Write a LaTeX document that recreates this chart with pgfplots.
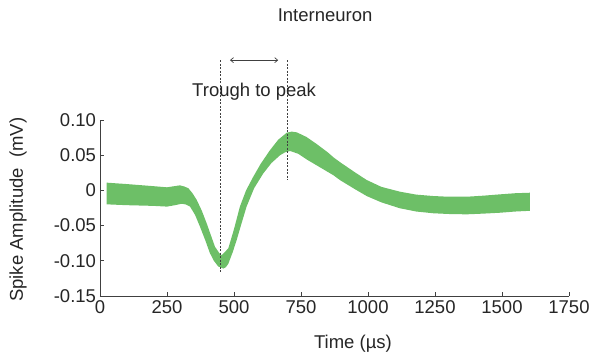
\documentclass[border=0pt]{standalone}
\usepackage{pgfplots}
\pgfplotsset{compat=1.18}
\usepackage{fontspec}
\setmainfont{Liberation Sans}
\usetikzlibrary{arrows.meta}
\definecolor{band}{HTML}{6DBF67}
\definecolor{txt}{HTML}{262626}
\definecolor{axc}{HTML}{404040}
\newcommand{\fs}{\fontsize{18.5bp}{22bp}\selectfont}
\begin{document}
\begin{tikzpicture}
\path[use as bounding box] (-100bp,-67bp) rectangle (489bp,296bp);
\begin{axis}[
  at={(0,0)}, anchor=south west,
  scale only axis, width=469bp, height=176bp,
  xmin=0, xmax=1750, ymin=-0.15, ymax=0.10,
  axis lines*=left,
  axis line style={axc, line width=0.8bp},
  tick style={axc, line width=0.8bp},
  tick align=inside, major tick length=4bp,
  xtick={0,250,500,750,1000,1250,1500,1750},
  ytick={-0.15,-0.10,-0.05,0,0.05,0.10},
  yticklabels={-0.15,-0.10,-0.05,0,0.05,0.10},
  xticklabel style={/pgf/number format/1000 sep={}},
  /pgf/number format/assume math mode=true,
  ticklabel style={font=\fs, text=txt},
  xticklabel style={yshift=-1bp},
  yticklabel style={xshift=-0.5bp},
  clip=false,
]
\addplot[fill=band, draw=none] coordinates {
(25,0.011) (100,0.009) (200,0.006) (250,0.0044) (298,0.0072) (315,0.0055)
(330,0.003) (345,-0.004) (361,-0.0136) (380,-0.029) (398,-0.0467) (415,-0.065)
(429,-0.080) (445,-0.089) (454,-0.092) (465,-0.088) (479,-0.082) (500,-0.055)
(522,-0.023) (545,0.0) (572,0.0195) (600,0.038) (634,0.057) (665,0.072)
(697,0.082) (715,0.0835) (734,0.0825) (770,0.076) (808,0.066) (850,0.054)
(871,0.047) (896,0.040) (950,0.026) (995,0.0148) (1050,0.005) (1119,-0.0018)
(1180,-0.006) (1244,-0.008) (1300,-0.009) (1368,-0.009) (1430,-0.0075)
(1493,-0.0056) (1550,-0.004) (1604,-0.0033)
(1604,-0.029) (1550,-0.030) (1493,-0.0317) (1430,-0.033) (1368,-0.034)
(1300,-0.0335) (1244,-0.0325) (1180,-0.030) (1119,-0.0254) (1050,-0.017)
(995,-0.008) (950,0.002) (896,0.0145) (871,0.0215) (820,0.033) (771,0.044)
(740,0.052) (709,0.056) (690,0.054) (672,0.050) (640,0.039) (609,0.024)
(575,0.003) (547,-0.023) (528,-0.047) (510,-0.0705) (495,-0.088) (479,-0.104)
(470,-0.109) (460,-0.111) (441,-0.108) (425,-0.100) (410,-0.089) (392,-0.070)
(373,-0.0515) (355,-0.035) (336,-0.023) (320,-0.020) (305,-0.0189) (280,-0.021)
(250,-0.023) (200,-0.022) (100,-0.021) (25,-0.0198)
} -- cycle;
\addplot[axc, line width=0.7bp, dash pattern=on 2bp off 1.5bp] coordinates {(450,0.185) (450,-0.116)};
\addplot[axc, line width=0.7bp, dash pattern=on 2bp off 1.5bp] coordinates {(699,0.185) (699,0.0158)};
\addplot[axc, line width=0.7bp, {Straight Barb[length=3bp,width=5bp]}-{Straight Barb[length=3bp,width=5bp]}] coordinates {(485,0.185) (665,0.185)};
\node[font=\fs, text=txt] at (axis cs:575,0.140) {Trough to peak};
\node[font=\fs, text=txt] at (axis cs:840,0.249) {Interneuron};
\node[font=\fs, text=txt] at (axis cs:944,-0.218) {Time (µs)};
\node[font=\fs, text=txt, rotate=90] at (axis cs:-306,-0.0275) {Spike Amplitude~~(mV)};
\end{axis}
\end{tikzpicture}
\end{document}
